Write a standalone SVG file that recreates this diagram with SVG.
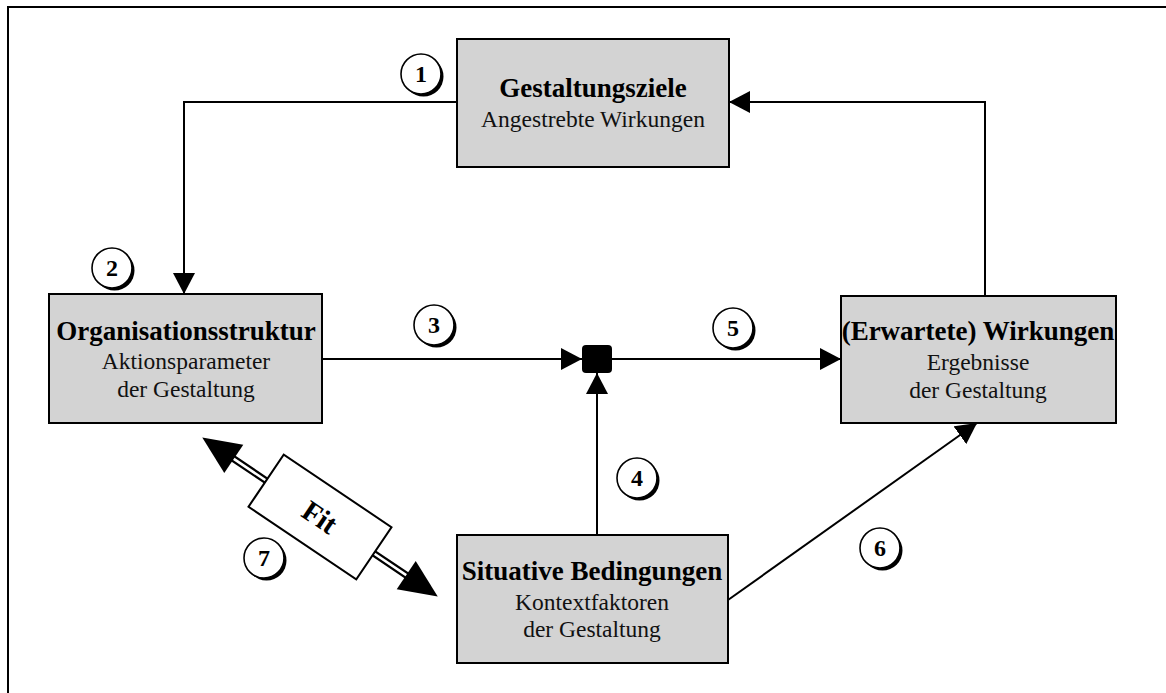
<svg xmlns="http://www.w3.org/2000/svg" width="1166" height="693" viewBox="0 0 1166 693">
  <style>
    .box { fill: #d3d3d3; stroke: #000; stroke-width: 2; }
    .line { fill: none; stroke: #000; stroke-width: 2; }
    .title { font-family: "Liberation Serif", "Times New Roman", serif; font-weight: bold; font-size: 27px; text-anchor: middle; fill: #000; }
    .sub { font-family: "Liberation Serif", "Times New Roman", serif; font-size: 23.5px; text-anchor: middle; fill: #111; }
    .num { font-family: "Liberation Serif", "Times New Roman", serif; font-weight: bold; font-size: 24px; text-anchor: middle; fill: #000; }
    .fit-label { font-family: "Liberation Serif", "Times New Roman", serif; font-weight: bold; font-size: 29px; text-anchor: middle; fill: #000; }
    .badge { fill: #fff; stroke: #000; stroke-width: 1.6; }
    .badge-shadow { fill: #000; }
  </style>
  <defs>
    <marker id="arrow" markerUnits="userSpaceOnUse" markerWidth="22" markerHeight="22" refX="21" refY="11" orient="auto">
      <path d="M0,0 L21,11 L0,22 Z" fill="#000"/>
    </marker>
    <g id="badge-base">
      <circle class="badge-shadow" cx="2.5" cy="2.5" r="20"/>
      <circle class="badge" cx="0" cy="0" r="20"/>
    </g>
  </defs>

  <rect width="1166" height="693" fill="#fff"/>
  <!-- outer frame -->
  <path class="line" d="M8,693 V7 H1166"/>

  <!-- connectors -->
  <g id="connectors">
    <path class="line" d="M457,102 H184 V294" marker-end="url(#arrow)"/>
    <path class="line" d="M985,296 V102 H729" marker-end="url(#arrow)"/>
    <path class="line" d="M322,359 H582" marker-end="url(#arrow)"/>
    <path class="line" d="M612,359 H841" marker-end="url(#arrow)"/>
    <path class="line" d="M597,535 V373" marker-end="url(#arrow)"/>
    <path class="line" d="M728,600 L977,423" marker-end="url(#arrow)"/>
    <!-- fit relation: double-shafted arrow with label box -->
    <g id="fit" transform="translate(320,517) rotate(34)">
      <path d="M-106,0 H-65 M65,0 H106" stroke="#000" stroke-width="7" fill="none"/>
      <path d="M-108,0 H-63 M63,0 H108" stroke="#fff" stroke-width="2.6" fill="none"/>
      <path d="M-142,0 L-104,-17 L-104,17 Z" fill="#000"/>
      <path d="M142,0 L104,-17 L104,17 Z" fill="#000"/>
      <rect x="-65" y="-31.5" width="130" height="63" fill="#fff" stroke="#000" stroke-width="2"/>
      <text class="fit-label" x="0" y="10">Fit</text>
    </g>
  </g>

  <!-- junction -->
  <g id="junction">
    <rect x="582" y="345" width="30" height="28" rx="4" fill="#000"/>
  </g>

  <g id="gestaltungsziele">
    <rect class="box" x="457" y="39" width="272" height="128"/>
    <text class="title" x="593" y="97">Gestaltungsziele</text>
    <text class="sub" x="593" y="127">Angestrebte Wirkungen</text>
  </g>

  <g id="organisationsstruktur">
    <rect class="box" x="49" y="294" width="273" height="129"/>
    <text class="title" x="186" y="340">Organisationsstruktur</text>
    <text class="sub" x="186" y="369">Aktionsparameter</text>
    <text class="sub" x="186" y="397">der Gestaltung</text>
  </g>

  <g id="wirkungen">
    <rect class="box" x="841" y="296" width="275" height="127"/>
    <text class="title" x="978" y="340">(Erwartete) Wirkungen</text>
    <text class="sub" x="978" y="370">Ergebnisse</text>
    <text class="sub" x="978" y="398">der Gestaltung</text>
  </g>

  <g id="situative">
    <rect class="box" x="457" y="535" width="271" height="128"/>
    <text class="title" x="592" y="580">Situative Bedingungen</text>
    <text class="sub" x="592" y="610">Kontextfaktoren</text>
    <text class="sub" x="592" y="637">der Gestaltung</text>
  </g>

  <!-- numbered badges -->
  <g id="badge-1" transform="translate(421,74)"><use href="#badge-base"/><text class="num" x="0" y="8">1</text></g>
  <g id="badge-2" transform="translate(112,268)"><use href="#badge-base"/><text class="num" x="0" y="8">2</text></g>
  <g id="badge-3" transform="translate(434,325)"><use href="#badge-base"/><text class="num" x="0" y="8">3</text></g>
  <g id="badge-4" transform="translate(637,478)"><use href="#badge-base"/><text class="num" x="0" y="8">4</text></g>
  <g id="badge-5" transform="translate(733,328)"><use href="#badge-base"/><text class="num" x="0" y="8">5</text></g>
  <g id="badge-6" transform="translate(880,548)"><use href="#badge-base"/><text class="num" x="0" y="8">6</text></g>
  <g id="badge-7" transform="translate(264,558)"><use href="#badge-base"/><text class="num" x="0" y="8">7</text></g>
</svg>
